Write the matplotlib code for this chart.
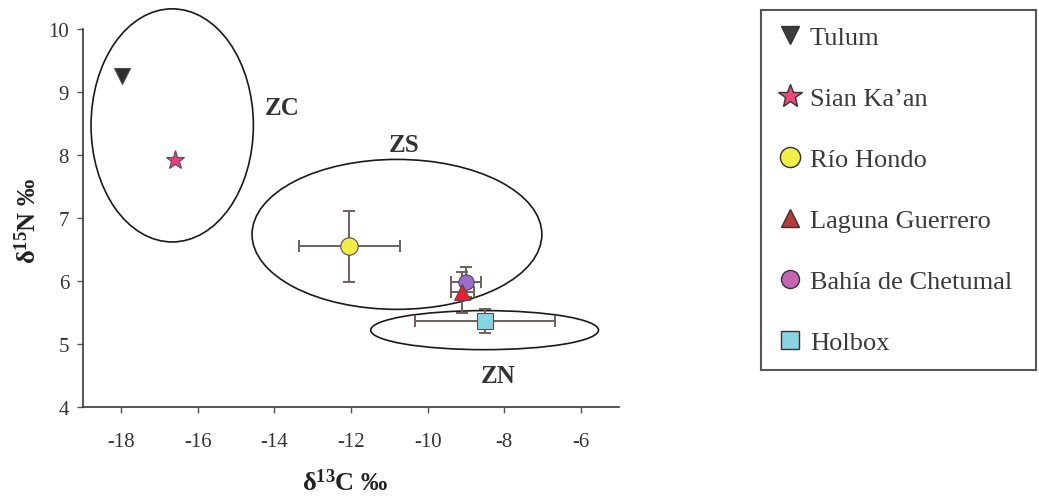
import matplotlib
matplotlib.use('Agg')
import matplotlib.pyplot as plt
from matplotlib.patches import Ellipse
from matplotlib.lines import Line2D

plt.rcParams['font.family'] = ['Liberation Serif', 'DejaVu Serif']
plt.rcParams['mathtext.fontset'] = 'custom'
plt.rcParams['mathtext.rm'] = 'Liberation Serif'
plt.rcParams['mathtext.bf'] = 'Liberation Serif:bold'
plt.rcParams['mathtext.it'] = 'Liberation Serif:italic'
plt.rcParams['axes.unicode_minus'] = False

# Valores medios de isótopos estables por localidad (d13C, d15N) y su desviación
sites = ['Tulum', 'Sian Ka\u2019an', 'Río Hondo', 'Laguna Guerrero',
         'Bahía de Chetumal', 'Holbox']
d13c = [-17.97, -16.6, -12.05, -9.1, -9.0, -8.5]
d15n = [9.25, 7.92, 6.55, 5.82, 5.99, 5.36]
err_c = [0, 0, 1.32, 0.3, 0.4, 1.83]
err_n = [0, 0, 0.56, 0.33, 0.24, 0.19]

markers = ['v', '*', 'o', '^', 'o', 's']
sizes = [11, 14, 12.5, 11, 11, 11.5]
colors = ['#2e2e2e', '#ea3f7c', '#f2ec48', '#e8202e', '#9a6ccc', '#86d6e0']
legend_colors = ['#3c3c3c', '#ea4a78', '#f2ee4a', '#b83a3c', '#c466b4', '#88d4e0']

# Zonas: centro (d13C, d15N), ancho, alto
zones = ['ZC', 'ZS', 'ZN']
zone_center = [(-16.67, 8.47), (-10.8, 6.74), (-8.51, 5.22)]
zone_width = [4.24, 7.57, 5.95]
zone_height = [3.70, 2.38, 0.62]
zone_label_pos = [(-13.8, 8.76), (-10.6, 8.17), (-8.16, 4.5)]

fig = plt.figure(figsize=(10.39, 5.02), dpi=100)
ax = fig.add_axes([83 / 1039, 94 / 502, 536 / 1039, 378 / 502])

for (cx, cy), w, h in zip(zone_center, zone_width, zone_height):
    ax.add_patch(Ellipse((cx, cy), w, h, fill=False, edgecolor='#1a1a1a',
                         linewidth=1.2, clip_on=False, zorder=2))

for name, (tx, ty) in zip(zones, zone_label_pos):
    ax.text(tx, ty, name, fontsize=18, fontweight='bold', color='#333333',
            ha='center', va='center')

for i in range(len(sites)):
    if err_c[i] or err_n[i]:
        ax.errorbar(d13c[i], d15n[i], xerr=err_c[i], yerr=err_n[i], fmt='none',
                    ecolor='#6e605c', elinewidth=1.4, capsize=4, capthick=1.4,
                    zorder=3)
order = [0, 1, 2, 4, 3, 5]
for i in order:
    ax.plot(d13c[i], d15n[i], linestyle='none', marker=markers[i],
            markersize=sizes[i], markerfacecolor=colors[i],
            markeredgecolor='#5a4a5a', markeredgewidth=0.8, zorder=4)

ax.set_xlim(-19, -5)
ax.set_ylim(4, 10)
ax.set_xticks(range(-18, -5, 2))
ax.set_yticks(range(4, 11))
for side in ['top', 'right']:
    ax.spines[side].set_visible(False)
for side in ['left', 'bottom']:
    ax.spines[side].set_color('#3a3a3a')
    ax.spines[side].set_linewidth(1.2)
ax.tick_params(direction='out', length=4, width=1, color='#555555',
               labelsize=15, labelcolor='#333333')
ax.tick_params(axis='x', pad=14)
ax.tick_params(axis='y', pad=6)

fig.text(345 / 1039, 1 - 483 / 502, 'δ$^{\\mathbf{13}}$C ‰', fontsize=19,
         fontweight='bold', color='#222222', ha='center', va='center')
fig.text(28 / 1039, 1 - 221 / 502, 'δ$^{\\mathbf{15}}$N ‰', fontsize=19,
         fontweight='bold', color='#222222', ha='center', va='center',
         rotation=90)

# Recuadro de la leyenda
lax = fig.add_axes([761 / 1039, 1 - 371 / 502, 275 / 1039, 360 / 502])
lax.set_xticks([])
lax.set_yticks([])
for s in lax.spines.values():
    s.set_color('#555555')
    s.set_linewidth(1.5)

handles = [Line2D([], [], linestyle='none', marker=markers[i],
                  markersize=sizes[i] + 4 if markers[i] == '*' else sizes[i] + 2,
                  markerfacecolor=legend_colors[i], markeredgecolor='#333333',
                  markeredgewidth=1.0)
           for i in range(len(sites))]
lax.legend(handles, sites, loc='center left', frameon=False, fontsize=19,
           labelcolor='#3a3a3a', handlelength=1.0, handletextpad=0.25,
           labelspacing=1.42, borderaxespad=0.2, bbox_to_anchor=(0.0, 0.5))

fig.savefig('out.png', dpi=100)
